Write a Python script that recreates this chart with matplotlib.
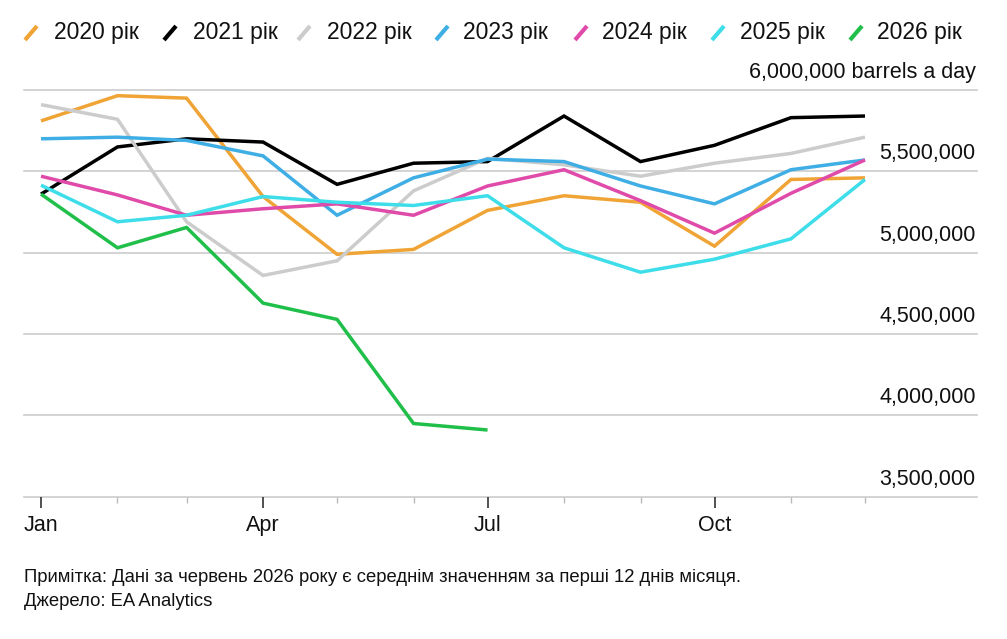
import pandas as pd
import matplotlib.pyplot as plt
import matplotlib.dates as mdates
from matplotlib.ticker import FixedLocator
from matplotlib.lines import Line2D

plt.rcParams['font.family'] = ['Liberation Sans', 'DejaVu Sans']

months = pd.date_range('2021-01-01', periods=12, freq='MS')

years = ['2020', '2021', '2022', '2023', '2024', '2025', '2026']
colors = ['#F0A436', '#000000', '#CCCCCC', '#3FAEE5', '#E04BAA', '#3EDDEA', '#1FBF4A']

y2020 = [5810000, 5965000, 5950000, 5345000, 4990000, 5020000, 5260000, 5350000, 5310000, 5040000, 5450000, 5460000]
y2021 = [5360000, 5650000, 5700000, 5680000, 5420000, 5550000, 5560000, 5840000, 5560000, 5660000, 5830000, 5840000]
y2022 = [5910000, 5820000, 5190000, 4860000, 4950000, 5380000, 5580000, 5540000, 5470000, 5550000, 5610000, 5710000]
y2023 = [5700000, 5710000, 5690000, 5595000, 5230000, 5460000, 5575000, 5560000, 5410000, 5300000, 5510000, 5570000]
y2024 = [5470000, 5355000, 5230000, 5270000, 5300000, 5230000, 5410000, 5510000, 5320000, 5120000, 5365000, 5570000]
y2025 = [5415000, 5190000, 5230000, 5345000, 5310000, 5290000, 5350000, 5030000, 4880000, 4960000, 5085000, 5450000]
y2026 = [5360000, 5030000, 5155000, 4690000, 4590000, 3950000, 3910000]
series = [y2020, y2021, y2022, y2023, y2024, y2025, y2026]

yticks = [3500000, 4000000, 4500000, 5000000, 5500000, 6000000]

W, H = 1007, 639
fig = plt.figure(figsize=(W / 100, H / 100), dpi=100)
ax = fig.add_axes([24 / W, 1 - 496.7 / H, (977 - 24) / W, (496.7 - 90) / H])

for tick in yticks:
    ax.axhline(tick, color='#CCCCCC', lw=1.2, zorder=1, clip_on=False)
    label = f'{tick:,}'
    if tick == yticks[-1]:
        label += ' barrels a day'
    ax.annotate(label, (1, tick), xycoords=('axes fraction', 'data'),
                xytext=(-1, 5), textcoords='offset points',
                ha='right', va='bottom', fontsize=15.5, color='#111111')

for vals, col in zip(series, colors):
    ax.plot(months[:len(vals)], vals, color=col, lw=2.5, zorder=3,
            solid_joinstyle='miter', solid_capstyle='butt')

start = months[0]
ax.set_xlim(start - pd.Timedelta(days=6.9), start + pd.Timedelta(days=379.4))
ax.set_ylim(3500000, 6000000)

for s in ax.spines.values():
    s.set_visible(False)
ax.set_yticks([])
month_nums = mdates.date2num(months)
ax.xaxis.set_major_locator(FixedLocator(month_nums[[0, 3, 6, 9]]))
ax.xaxis.set_major_formatter(mdates.DateFormatter('%b'))
ax.xaxis.set_minor_locator(FixedLocator(month_nums))
ax.tick_params(axis='x', which='major', length=8, width=1.2, color='#333333',
               labelsize=15.5, pad=5, labelcolor='#111111')
ax.tick_params(axis='x', which='minor', length=4, width=1, color='#BBBBBB')

# legend
mark_x = [31, 170, 304, 442, 581, 718, 856]
text_x = [54, 193, 327, 463, 602, 740, 877]
for yr, col, mx, tx in zip(years, colors, mark_x, text_x):
    fig.add_artist(Line2D([(mx - 6) / W, (mx + 6) / W], [1 - 40 / H, 1 - 26 / H],
                          color=col, lw=3, solid_capstyle='butt'))
    fig.text(tx / W, 1 - 33 / H, f'{yr} рік', fontsize=16.5, va='center', ha='left',
             color='#111111')

fig.text(24 / W, 1 - 578 / H,
         'Примітка: Дані за червень 2026 року є середнім значенням за перші 12 днів місяця.',
         fontsize=13.3, va='center', ha='left', color='#111111')
fig.text(24 / W, 1 - 601 / H, 'Джерело: EA Analytics',
         fontsize=13.3, va='center', ha='left', color='#111111')

fig.savefig('out.png', dpi=100)
